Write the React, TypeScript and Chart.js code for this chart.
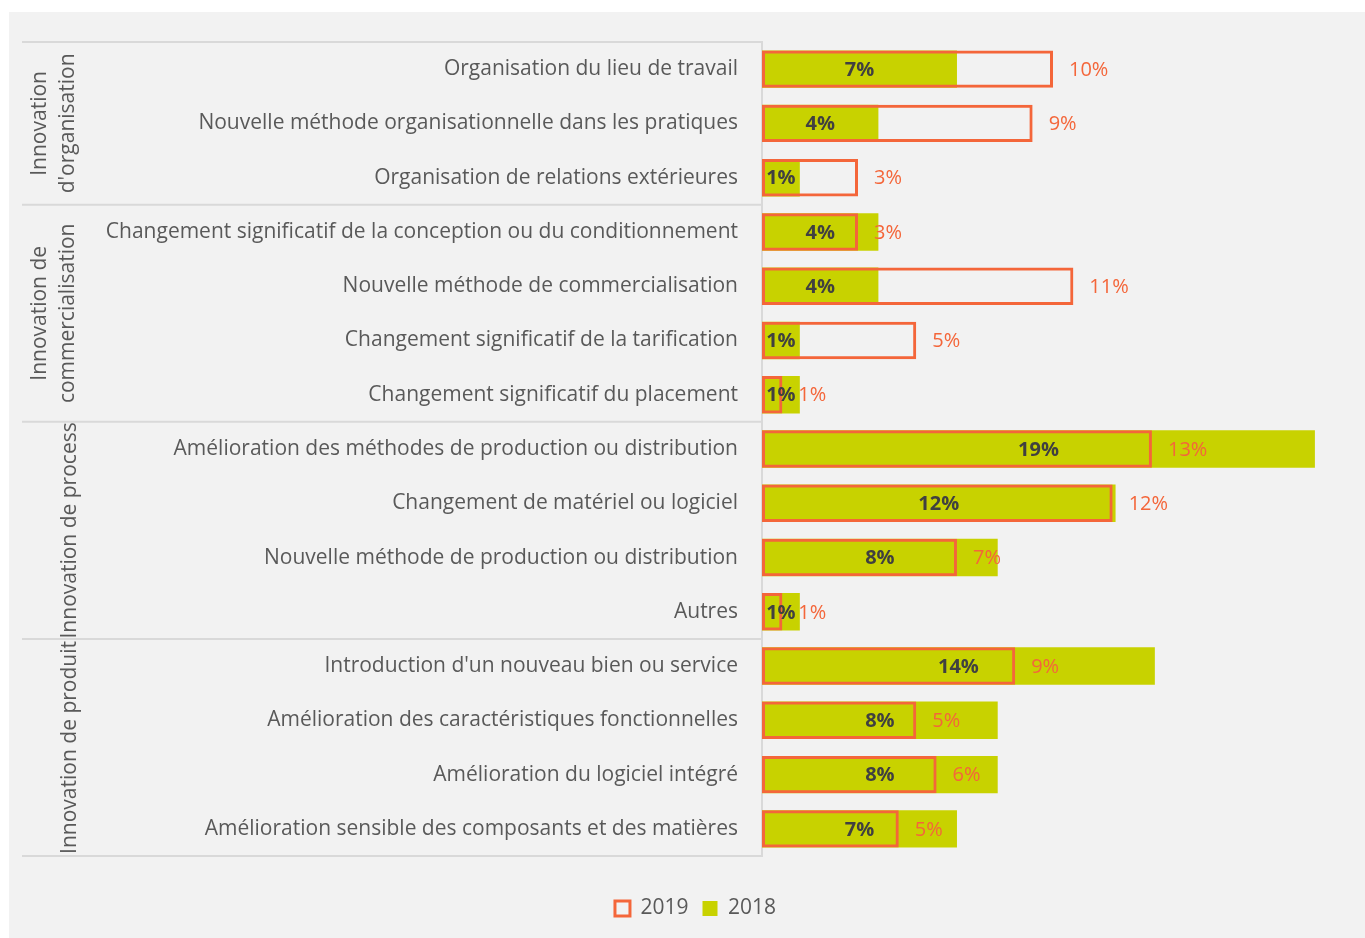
import React, { useEffect, useRef } from "react";
import { Chart, registerables } from "chart.js";

Chart.register(...registerables);

const categories = [
  "Organisation du lieu de travail",
  "Nouvelle méthode organisationnelle dans les pratiques",
  "Organisation de relations extérieures",
  "Changement significatif de la conception ou du conditionnement",
  "Nouvelle méthode de commercialisation",
  "Changement significatif de la tarification",
  "Changement significatif du placement",
  "Amélioration des méthodes de production ou distribution",
  "Changement de matériel ou logiciel",
  "Nouvelle méthode de production ou distribution",
  "Autres",
  "Introduction d'un nouveau bien ou service",
  "Amélioration des caractéristiques fonctionnelles",
  "Amélioration du logiciel intégré",
  "Amélioration sensible des composants et des matières",
];

const groupLabels: string[][] = [
  ["Innovation", "d'organisation"],
  ["Innovation de", "commercialisation"],
  ["Innovation de process"],
  ["Innovation de produit"],
];
const groupSizes = [3, 4, 4, 4];

const values2019 = [10.0, 9.3, 3.3, 3.3, 10.7, 5.3, 0.7, 13.4, 12.05, 6.7, 0.7, 8.7, 5.3, 6.0, 4.7];
const values2018 = [6.7, 4.0, 1.3, 4.0, 4.0, 1.3, 1.3, 19.0, 12.15, 8.1, 1.3, 13.5, 8.1, 8.1, 6.7];

const seriesNames = ["2019", "2018"];

const ORANGE = "#f4663a";
const GREEN = "#c8d200";
const TEXT = "#595959";
const FONT = "'Open Sans', sans-serif";

const groupPlugin = {
  id: "groupPlugin",
  afterDraw(chart: any) {
    const { ctx, chartArea, scales } = chart;
    const y = scales.y;
    const step = y.getPixelForValue(1) - y.getPixelForValue(0);
    const bounds: number[] = [chartArea.top];
    let idx = 0;
    for (const s of groupSizes) {
      idx += s;
      bounds.push(y.getPixelForValue(idx - 1) + step / 2);
    }
    ctx.save();
    ctx.strokeStyle = "#d9d9d9";
    ctx.lineWidth = 2;
    for (const b of bounds) {
      ctx.beginPath();
      ctx.moveTo(13, b);
      ctx.lineTo(chartArea.left, b);
      ctx.stroke();
    }
    ctx.fillStyle = TEXT;
    ctx.font = `21px ${FONT}`;
    ctx.textAlign = "center";
    ctx.textBaseline = "middle";
    groupLabels.forEach((lines, g) => {
      const mid = (bounds[g] + bounds[g + 1]) / 2;
      const xs = lines.length === 2 ? [31, 59] : [61];
      lines.forEach((t, k) => {
        ctx.save();
        ctx.translate(xs[k], mid);
        ctx.rotate(-Math.PI / 2);
        ctx.fillText(t, 0, 0);
        ctx.restore();
      });
    });
    ctx.restore();
  },
};

const labelPlugin = {
  id: "labelPlugin",
  afterDatasetsDraw(chart: any) {
    const { ctx } = chart;
    ctx.save();
    ctx.textBaseline = "middle";
    const m18 = chart.getDatasetMeta(1);
    ctx.font = `bold 20px ${FONT}`;
    ctx.fillStyle = "#404040";
    ctx.textAlign = "center";
    m18.data.forEach((bar: any, i: number) => {
      ctx.fillText(Math.round(values2018[i]) + "%", (bar.x + bar.base) / 2, bar.y + 1);
    });
    const m19 = chart.getDatasetMeta(0);
    ctx.font = `20px ${FONT}`;
    ctx.fillStyle = ORANGE;
    ctx.textAlign = "left";
    m19.data.forEach((bar: any, i: number) => {
      ctx.fillText(Math.round(values2019[i]) + "%", bar.x + 16, bar.y + 1);
    });
    ctx.restore();
  },
};

export default function App() {
  const ref = useRef<HTMLCanvasElement | null>(null);
  useEffect(() => {
    if (!ref.current) return;
    const chart = new Chart(ref.current, {
      type: "bar",
      data: {
        labels: categories,
        datasets: [
          {
            label: seriesNames[0],
            data: values2019,
            backgroundColor: "rgba(0,0,0,0)",
            borderColor: ORANGE,
            borderWidth: 3,
            borderSkipped: false,
            grouped: false,
            barPercentage: 0.69,
            categoryPercentage: 1,
          },
          {
            label: seriesNames[1],
            data: values2018,
            backgroundColor: GREEN,
            borderWidth: 0,
            grouped: false,
            barPercentage: 0.69,
            categoryPercentage: 1,
          },
        ],
      } as any,
      options: {
        indexAxis: "y",
        animation: false,
        responsive: true,
        maintainAspectRatio: false,
        layout: { padding: { left: 38, top: 30, right: 21, bottom: 9 } },
        scales: {
          x: {
            min: 0,
            max: 20,
            display: true,
            grid: { display: false, drawTicks: false },
            border: { display: false },
            ticks: { display: false },
            afterFit: (s: any) => {
              s.height = 28;
              s.paddingLeft = 0;
              s.paddingRight = 0;
            },
          },
          y: {
            grid: { display: false, drawTicks: false },
            border: { display: true, color: "#d9d9d9", width: 2 },
            ticks: {
              color: TEXT,
              font: { family: FONT, size: 21 },
              padding: 24,
              autoSkip: false,
            },
            afterFit: (s: any) => {
              s.width = 715;
              s.paddingTop = 0;
              s.paddingBottom = 0;
            },
          },
        },
        plugins: {
          legend: {
            position: "bottom",
            labels: {
              color: TEXT,
              font: { family: FONT, size: 21 },
              boxWidth: 15,
              boxHeight: 15,
              padding: 14,
            },
          },
          tooltip: { enabled: false },
        },
      } as any,
      plugins: [groupPlugin, labelPlugin],
    });
    return () => chart.destroy();
  }, []);
  return (
    <div
      style={{
        position: "absolute",
        left: 9,
        top: 12,
        width: 1356,
        height: 926,
        background: "#f2f2f2",
      }}
    >
      <canvas ref={ref} />
    </div>
  );
}
